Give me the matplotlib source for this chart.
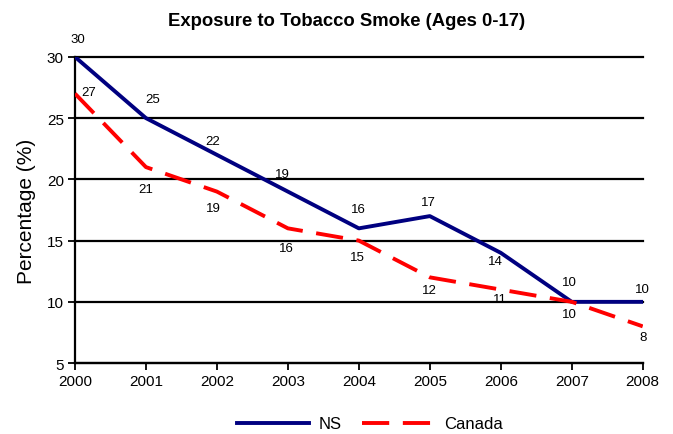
import matplotlib.pyplot as plt

plt.rcParams['font.family'] = ['Liberation Sans', 'DejaVu Sans']

years = [2000, 2001, 2002, 2003, 2004, 2005, 2006, 2007, 2008]
ns = [30, 25, 22, 19, 16, 17, 14, 10, 10]
canada = [27, 21, 19, 16, 15, 12, 11, 10, 8]

# label offsets (px, right/down positive)
ns_off = [(3, -18), (7, -19), (-4, -14), (-5, -18), (0, -19), (-1, -14), (-5, 8), (-2, -20), (0, -13)]
ca_off = [(14, -2), (0, 22), (-4, 16), (-1, 20), (-1, 16), (0, 13), (-1, 9), (-2, 12), (0, 11)]

fig = plt.figure(figsize=(6.73, 4.35), dpi=100)
ax = fig.add_axes([0.1114, 0.163, 0.8436, 0.704])

ax.plot(years, ns, color='#000080', lw=2.8, label='NS', zorder=3)
ax.plot(years, canada, color='#ff0000', lw=2.8, dashes=(7, 3.5), label='Canada', zorder=3)

for x, v, (dx, dy) in zip(years, ns, ns_off):
    ax.annotate(str(v), (x, v), xytext=(dx * 0.72, -dy * 0.72), textcoords='offset points',
                ha='center', va='center', fontsize=9.5, zorder=4)
for x, v, (dx, dy) in zip(years, canada, ca_off):
    ax.annotate(str(v), (x, v), xytext=(dx * 0.72, -dy * 0.72), textcoords='offset points',
                ha='center', va='center', fontsize=9.5, zorder=4)

ax.set_xlim(2000, 2008)
ax.set_ylim(5, 30)
ax.set_xticks(years)
ax.set_yticks([5, 10, 15, 20, 25, 30])
ax.tick_params(labelsize=11, length=5, width=1.3, color='black', pad=3)
ax.grid(axis='y', color='black', lw=1.6)
for gl in ax.get_ygridlines():
    gl.set_clip_on(False)
ax.spines['top'].set_visible(False)
ax.spines['right'].set_visible(False)
ax.spines['left'].set_linewidth(1.6)
ax.spines['bottom'].set_linewidth(1.6)
ax.set_ylabel('Percentage (%)', fontsize=15, labelpad=8)

fig.text(347 / 673, 1 - 22 / 435, 'Exposure to Tobacco Smoke (Ages 0-17)',
         ha='center', va='center', fontsize=13.3, fontweight='bold')

fig.legend(loc='center', bbox_to_anchor=(370 / 673, 10 / 435), ncol=2, frameon=False,
           fontsize=12, handlelength=4.3, handletextpad=0.6, columnspacing=1.2)

fig.savefig('out.png', dpi=100)
